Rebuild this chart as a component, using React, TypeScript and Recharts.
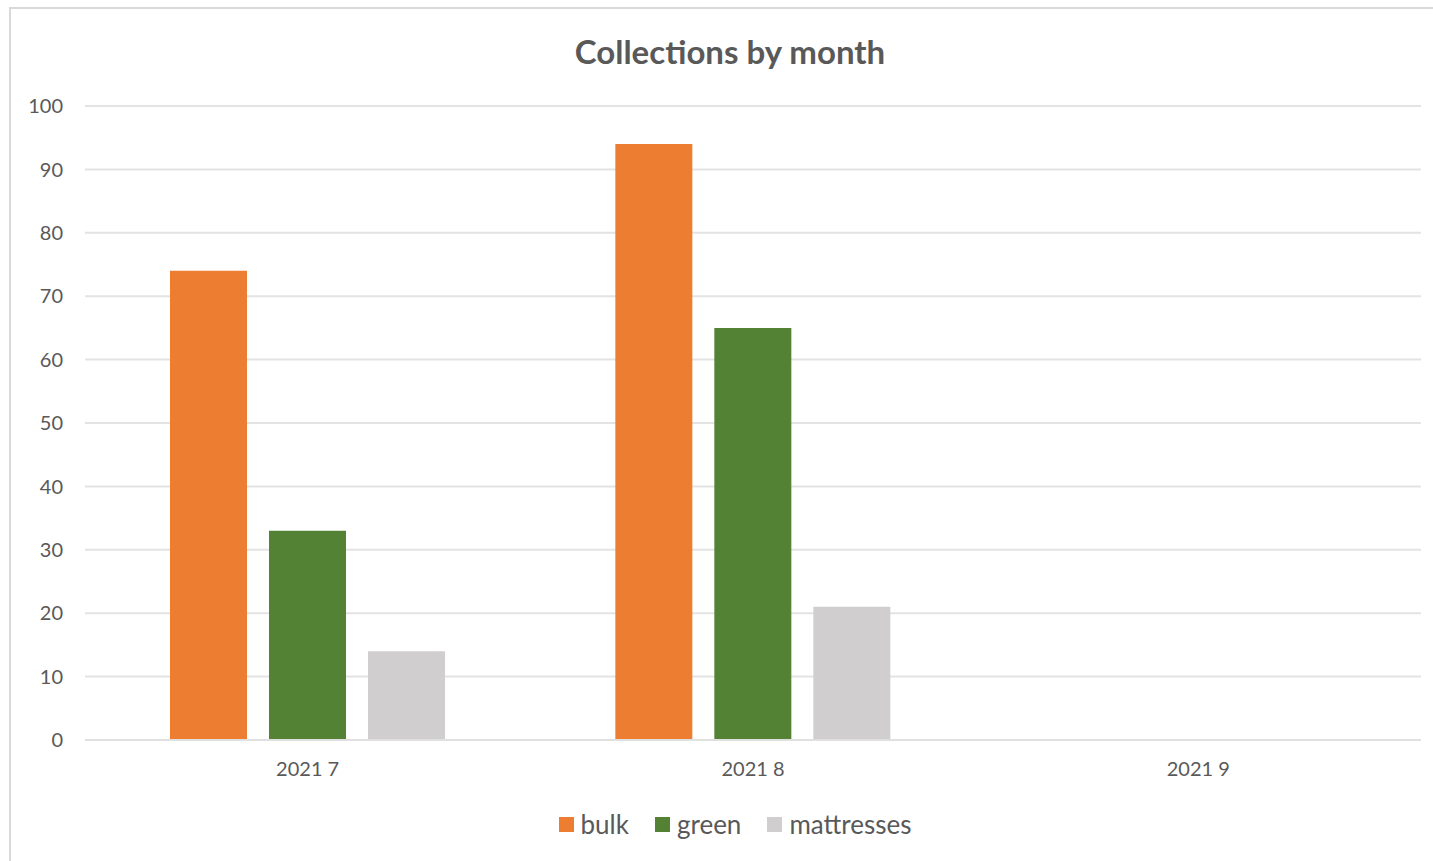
import { BarChart, Bar, XAxis, YAxis, CartesianGrid } from 'recharts'

const months = ['2021 7', '2021 8', '2021 9']
const bulk = [74, 94, 0]
const green = [33, 65, 0]
const mattresses = [14, 21, 0]
const yTicks = [0, 10, 20, 30, 40, 50, 60, 70, 80, 90, 100]

const SERIES = [
  { key: 'bulk', color: '#ED7D31' },
  { key: 'green', color: '#548235' },
  { key: 'mattresses', color: '#D0CECE' },
]

const FONT = 'Lato, "Open Sans", sans-serif'
const TEXT = '#595959'

const data = months.map((m, i) => ({
  month: m,
  bulk: bulk[i],
  green: green[i],
  mattresses: mattresses[i],
}))

export default function App() {
  return (
    <div style={{ position: 'absolute', left: 0, top: 0, width: 1433, height: 861, overflow: 'hidden', background: '#fff', fontFamily: FONT }}>
      {/* chart frame, runs off the right and bottom edges */}
      <div style={{ position: 'absolute', left: 9, top: 7, width: 1460, height: 900, border: '2px solid #d9d9d9', boxSizing: 'border-box' }} />
      <div style={{ position: 'absolute', left: 0, top: 31, width: 1460, textAlign: 'center', fontSize: 33, fontWeight: 700, color: TEXT }}>
        Collections by month
      </div>
      <div style={{ position: 'absolute', left: 0, top: 0 }}>
        <BarChart width={1433} height={861} data={data} barSize={77} barGap={22}
          margin={{ top: 106, right: 12, bottom: 91, left: 0 }}>
          <CartesianGrid vertical={false} stroke="#e3e3e3" strokeWidth={2} />
          <XAxis dataKey="month" tickLine={false} axisLine={{ stroke: '#e0e0e0', strokeWidth: 2 }}
            tickSize={0} tickMargin={22} tick={{ fontSize: 20, fill: TEXT, fontFamily: FONT }} />
          <YAxis domain={[0, 100]} ticks={yTicks} width={85} tickLine={false} axisLine={false}
            tickSize={0} tickMargin={22} tick={{ fontSize: 20, fill: TEXT, fontFamily: FONT }} />
          {SERIES.map(s => (
            <Bar key={s.key} dataKey={s.key} fill={s.color} isAnimationActive={false} />
          ))}
        </BarChart>
      </div>
      <div style={{ position: 'absolute', left: 0, top: 808, width: 1470, display: 'flex', justifyContent: 'center', gap: 26, fontSize: 26, color: TEXT }}>
        {SERIES.map(s => (
          <div key={s.key} style={{ display: 'flex', alignItems: 'center', gap: 7 }}>
            <span style={{ width: 15, height: 15, background: s.color, display: 'inline-block' }} />
            <span>{s.key}</span>
          </div>
        ))}
      </div>
    </div>
  )
}
